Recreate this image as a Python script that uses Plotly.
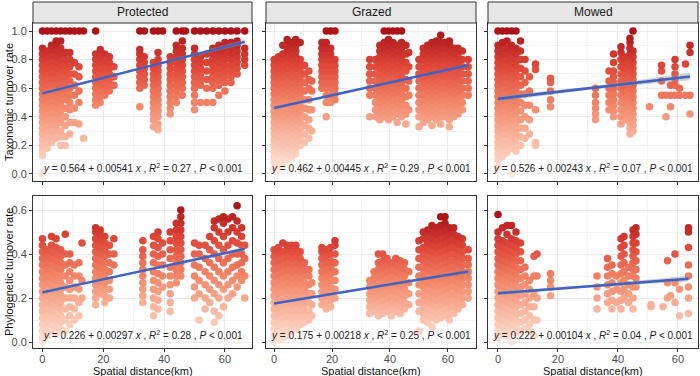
import plotly.graph_objects as go

# ---------------- data ----------------
PANELS = ["Protected", "Grazed", "Mowed"]
Y_TITLES = ["Taxonomic turnover rate", "Phylogenetic turnover rate"]
X_TITLE = "Spatial distance(km)"

# regression statistics shown in each panel (row-major: tax row, then phylo row)
INTERCEPTS = [0.564, 0.462, 0.526, 0.226, 0.175, 0.222]
SLOPES = [0.00541, 0.00445, 0.00243, 0.00297, 0.00218, 0.00104]
R2 = [0.27, 0.29, 0.07, 0.28, 0.25, 0.04]
P_TEXT = ["0.001"] * 6
# half-width of the grey confidence band at start / middle / end of the line
BAND = [(0.012, 0.006, 0.016), (0.006, 0.003, 0.006), (0.022, 0.01, 0.026),
        (0.007, 0.003, 0.01), (0.004, 0.002, 0.004), (0.009, 0.005, 0.013)]

# point columns: (spatial distance km, turnover values in hundredths)
PROTECTED_TAX = [
    (0, [0, 13, 16, 20, 24, 28, 32, 36, 40, 44, 48, 52, 56, 60, 64, 68, 72, 76, 80, 84, 88, 100]),
    (1.5, [18, 22, 26, 30, 34, 38, 42, 46, 50, 54, 58, 62, 66, 70, 74, 78, 82, 86, 100]),
    (3, [22, 27, 31, 35, 39, 43, 47, 51, 55, 59, 63, 67, 71, 75, 79, 83, 87, 90, 100]),
    (4.5, [25, 30, 34, 38, 42, 46, 50, 54, 58, 62, 66, 70, 74, 78, 82, 86, 90, 93, 100]),
    (6, [20, 26, 30, 36, 40, 44, 48, 52, 56, 60, 64, 68, 72, 76, 80, 84, 88, 93, 100]),
    (7.5, [20, 26, 34, 40, 46, 52, 56, 60, 64, 68, 72, 76, 80, 85, 100]),
    (9, [28, 36, 45, 50, 55, 60, 65, 70, 75, 80, 85, 100]),
    (10.5, [36, 46, 55, 62, 70, 78, 100]),
    (12, [35, 50, 58, 68, 75, 100]),
    (13.5, [25, 100]),
    (17.5, [48, 52, 56, 60, 64, 68, 72, 76, 80, 84, 100]),
    (19, [50, 54, 58, 62, 66, 70, 74, 78, 82, 87]),
    (20.5, [55, 59, 63, 67, 71, 75, 79, 84]),
    (22, [58, 62, 66, 70, 74, 78, 82]),
    (23.5, [62, 68, 75]),
    (32, [47, 60, 64, 68, 72, 76, 80, 84, 87, 100]),
    (33.5, [62, 66, 70, 74, 78, 82, 100]),
    (36.5, [33, 38, 42, 46, 50, 54, 58, 62, 66, 70, 74, 78, 100]),
    (38, [31, 35, 40, 44, 48, 52, 56, 60, 64, 68, 72, 76, 80, 85, 100]),
    (39.5, [100]),
    (42, [42, 46, 50, 54, 58, 62, 66, 70, 74, 78, 82]),
    (44, [50, 54, 58, 62, 66, 70, 74, 78, 82, 86, 90, 100]),
    (46, [55, 60, 64, 68, 72, 76, 80, 84, 88, 93, 100]),
    (47, [100]),
    (50, [45, 50, 55, 60, 64, 68, 72, 76, 80, 84, 88, 100]),
    (52, [50, 62, 66, 70, 74, 78, 82, 100]),
    (54, [50, 60, 66, 72, 78, 84, 100]),
    (56, [50, 60, 64, 68, 72, 76, 80, 84, 88, 100]),
    (58, [55, 62, 66, 70, 74, 78, 82, 86, 90, 100]),
    (60, [58, 64, 68, 72, 76, 80, 84, 88, 92, 100]),
    (62, [64, 68, 72, 76, 80, 84, 88, 92, 100]),
    (64, [70, 74, 78, 82, 86, 90, 93, 100]),
    (66.5, [76, 80, 84, 88, 100]),
]

GRAZED_TAX = [
    (0, [4, 8, 12, 16, 20, 24, 28, 32, 36, 40, 44, 48, 52, 56, 60, 64, 68, 72, 76, 80]),
    (1.5, [4, 6, 10, 14, 18, 22, 26, 30, 34, 38, 42, 46, 50, 54, 58, 62, 66, 70, 74, 78, 82]),
    (3, [8, 12, 16, 20, 24, 28, 32, 36, 40, 44, 48, 52, 56, 60, 64, 68, 72, 76, 80, 84, 90]),
    (4.5, [10, 14, 18, 22, 26, 30, 34, 38, 42, 46, 50, 54, 58, 62, 66, 70, 74, 78, 82, 86, 90, 94]),
    (6, [12, 16, 20, 24, 28, 32, 36, 40, 44, 48, 52, 56, 60, 64, 68, 72, 76, 80, 84, 88, 92]),
    (7.5, [14, 18, 22, 26, 30, 34, 38, 42, 46, 50, 54, 58, 62, 66, 70, 74, 78, 82, 86, 90, 94]),
    (9, [20, 24, 28, 32, 36, 40, 44, 48, 52, 56, 60, 64, 68, 72, 76, 80, 92]),
    (10.5, [22, 28, 34, 40, 46, 52, 58, 64, 70, 76]),
    (12, [25, 32, 38, 45, 52, 60, 66, 72]),
    (13, [30, 45, 58, 65]),
    (16.5, [60, 64, 68, 72, 76, 80, 84, 88, 92]),
    (18, [40, 50, 55, 60, 64, 68, 72, 76, 80, 84, 88, 92, 100]),
    (19.5, [50, 55, 60, 64, 68, 72, 76, 80, 84, 88, 100]),
    (21, [52, 56, 60, 64, 68, 72, 76, 80, 100]),
    (33, [40, 55, 60, 65, 70, 75, 80]),
    (35, [40, 45, 50, 55, 60, 65, 70, 75, 80]),
    (36.5, [38, 42, 46, 50, 54, 58, 62, 66, 70, 74, 78, 82, 86, 90]),
    (38, [40, 44, 48, 52, 56, 60, 64, 68, 72, 76, 80, 84, 88, 92, 100]),
    (39.5, [38, 42, 46, 50, 54, 58, 62, 66, 70, 74, 78, 82, 86, 90, 94, 100]),
    (41, [40, 44, 48, 52, 56, 60, 64, 68, 72, 76, 80, 84, 88, 92, 100]),
    (42.5, [36, 42, 46, 50, 54, 58, 62, 66, 70, 74, 78, 82, 86, 90, 100]),
    (44, [40, 44, 48, 52, 56, 60, 64, 68, 72, 76, 80, 84, 88, 92, 100]),
    (45.5, [35, 42, 48, 54, 60, 66, 72, 78, 84, 90]),
    (46.5, [45, 55, 65, 75, 85]),
    (50, [33, 40, 45, 50, 55, 60, 65, 70, 75, 80]),
    (51.5, [36, 40, 44, 48, 52, 56, 60, 64, 68, 72, 76, 80, 84, 88]),
    (53, [38, 42, 46, 50, 54, 58, 62, 66, 70, 74, 78, 82, 86, 90]),
    (54.5, [34, 40, 44, 48, 52, 56, 60, 64, 68, 72, 76, 80, 84, 88, 92]),
    (56, [38, 42, 46, 50, 54, 58, 62, 66, 70, 74, 78, 82, 86, 90, 93]),
    (57.5, [35, 40, 44, 48, 52, 56, 60, 64, 68, 72, 76, 80, 84, 88, 92, 97]),
    (59, [40, 44, 48, 52, 56, 60, 64, 68, 72, 76, 80, 84, 88, 92]),
    (60.5, [33, 38, 42, 46, 50, 54, 58, 62, 66, 70, 74, 78, 82, 86, 90, 93]),
    (62, [40, 44, 48, 52, 56, 60, 64, 68, 72, 76, 80, 84, 88]),
    (63.5, [42, 46, 50, 54, 58, 62, 66, 70, 74, 78, 82, 86, 88]),
    (65, [45, 50, 55, 60, 65, 70, 75, 80, 86]),
    (67, [55, 60, 65, 70, 75, 80]),
]

MOWED_TAX = [
    (0, [5, 10, 14, 18, 22, 26, 30, 34, 38, 42, 46, 50, 54, 58, 62, 66, 70, 74, 78, 82, 86, 90, 100]),
    (1.5, [12, 16, 20, 24, 28, 32, 36, 40, 44, 48, 52, 56, 60, 64, 68, 72, 76, 80, 84, 88, 92, 100]),
    (3, [15, 20, 24, 28, 32, 36, 40, 44, 48, 52, 56, 60, 64, 68, 72, 76, 80, 84, 88, 93, 100]),
    (4.5, [0, 18, 22, 26, 30, 34, 38, 42, 46, 50, 54, 58, 62, 66, 70, 74, 78, 82, 86, 90, 100]),
    (6, [16, 20, 24, 28, 32, 36, 40, 44, 48, 52, 56, 60, 64, 68, 72, 76, 80, 84, 88, 100]),
    (7.5, [20, 26, 32, 38, 44, 50, 56, 62, 68, 74, 80, 86, 93]),
    (9, [25, 32, 40, 48, 56, 64, 72, 80]),
    (10.5, [28, 38, 48, 58, 68]),
    (12.5, [20, 22, 45, 73, 77]),
    (17.5, [47, 52, 58, 64, 67]),
    (32.5, [38, 42, 46, 50, 55, 60]),
    (37, [45, 50, 55, 60, 65, 72]),
    (38.5, [40, 44, 48, 52, 56, 60, 64, 68, 72, 78, 84]),
    (41, [35, 40, 45, 50, 55, 60, 65, 70, 75, 80, 85, 89]),
    (42, [38, 42, 46, 50, 54, 58, 62, 66, 70, 74, 78, 82]),
    (44, [28, 32, 36, 40, 44, 48, 52, 56, 60, 64, 68, 72, 76, 80, 84, 88, 92, 95]),
    (45, [30, 34, 38, 42, 46, 50, 54, 58, 62, 66, 70, 74, 78, 82, 86, 100]),
    (50.5, [47]),
    (54.5, [55, 65, 72, 76]),
    (56, [40, 55]),
    (57.5, [47, 55, 62]),
    (59, [55, 62, 66, 70, 75, 80]),
    (60.5, [55, 60]),
    (62.5, [55, 77]),
    (64, [42, 55, 85, 90]),
]

PROTECTED_PHY = [
    (0, [0, 2, 5, 8, 11, 14, 17, 20, 23, 26, 29, 32, 35, 38, 41, 44, 47]),
    (1.5, [3, 6, 9, 12, 15, 18, 21, 24, 27, 30, 33, 36, 39, 42]),
    (3, [5, 8, 11, 14, 17, 20, 23, 26, 29, 32, 35, 38, 41, 44, 48]),
    (4.5, [4, 7, 10, 13, 16, 19, 22, 25, 28, 31, 34, 37, 40, 43, 47]),
    (6, [6, 9, 12, 15, 18, 21, 24, 27, 30, 33, 36, 39, 42]),
    (7.5, [5, 10, 15, 20, 25, 30, 35, 40, 49]),
    (9, [8, 12, 16, 20, 24, 28, 32, 36, 40]),
    (10.5, [10, 15, 20, 25, 30, 35]),
    (12, [12, 18, 24, 30, 36]),
    (13, [20, 28, 45]),
    (17.5, [17, 20, 23, 26, 29, 32, 35, 38, 41, 44, 47, 50, 52]),
    (19, [22, 25, 28, 31, 34, 37, 40, 43, 46, 49, 51]),
    (20.5, [18, 21, 24, 27, 30, 33, 36, 39, 42, 45, 48]),
    (22, [20, 24, 28, 32, 36, 40, 44]),
    (23.5, [35, 40, 47]),
    (33, [18, 21, 24, 27, 30, 33, 36, 39, 42, 46]),
    (36.5, [12, 16, 20, 24, 28, 32, 36, 40, 44, 48]),
    (38, [15, 19, 23, 27, 31, 35, 39, 43, 47, 50]),
    (39.5, [25, 30, 35, 40, 45]),
    (42, [14, 18, 22, 26, 30, 34, 38, 42, 46, 50]),
    (44, [27, 30, 33, 36, 39, 42, 45, 48, 51, 54]),
    (45.5, [30, 33, 36, 39, 42, 45, 48, 51, 54, 57, 60]),
    (50, [20, 25, 30, 35, 40, 45]),
    (51.5, [10, 22, 28, 34, 40, 44]),
    (53.5, [15, 20, 26, 32, 38, 44]),
    (55, [18, 24, 30, 36, 42, 48]),
    (56.5, [9, 14, 22, 28, 34, 40, 46, 52, 55]),
    (58, [12, 20, 26, 32, 38, 44, 50, 56]),
    (59.5, [16, 24, 30, 36, 42, 48, 54, 57]),
    (61, [20, 26, 32, 38, 44, 50, 56]),
    (62.5, [22, 28, 34, 40, 46, 52, 57]),
    (64, [25, 30, 35, 40, 45, 50, 55, 62]),
    (65.5, [28, 32, 36, 40, 44, 48, 52]),
    (66.5, [20, 30, 38, 44]),
]

GRAZED_PHY = [
    (0, [0, 3, 6, 9, 12, 15, 18, 21, 24, 27, 30, 33, 36, 39, 42]),
    (1.5, [1, 4, 7, 10, 13, 16, 19, 22, 25, 28, 31, 34, 37, 40, 43]),
    (3, [2, 5, 8, 11, 14, 17, 20, 23, 26, 29, 32, 35, 38, 41, 45]),
    (4.5, [3, 6, 9, 12, 15, 18, 21, 24, 27, 30, 33, 36, 39, 42, 44]),
    (6, [5, 8, 11, 14, 17, 20, 23, 26, 29, 32, 35, 38, 41, 44]),
    (7.5, [6, 9, 12, 15, 18, 21, 24, 27, 30, 33, 36, 39, 42, 44]),
    (9, [8, 11, 14, 17, 20, 23, 26, 29, 32, 35, 38, 41]),
    (10.5, [9, 12, 15, 18, 21, 24, 27, 30, 33, 36]),
    (12, [10, 14, 18, 22, 26, 30, 33]),
    (13, [12, 17, 22, 27]),
    (16.5, [17, 20, 23, 26, 29, 32, 35, 38, 41, 43]),
    (18, [15, 18, 21, 24, 27, 30, 33, 36, 39, 42]),
    (19.5, [16, 19, 22, 25, 28, 31, 34, 37, 40, 43]),
    (21, [20, 24, 28, 32, 36, 40, 44, 46]),
    (33, [13, 16, 19, 22, 25, 28]),
    (34.5, [14, 17, 20, 23, 26, 29, 32]),
    (36, [12, 15, 18, 21, 24, 27, 30, 33, 36, 40]),
    (37.5, [13, 16, 19, 22, 25, 28, 31, 34, 37, 40]),
    (39, [14, 17, 20, 23, 26, 29, 32, 35, 38]),
    (40.5, [12, 15, 18, 21, 24, 27, 30, 33, 36]),
    (42, [14, 17, 20, 23, 26, 29, 32, 35, 38]),
    (43.5, [13, 16, 19, 22, 25, 28, 31, 34, 37]),
    (45, [15, 18, 21, 24, 27, 30, 33, 36]),
    (46.5, [17, 22, 27, 32]),
    (50, [5, 14, 18, 22, 26, 30, 34, 38, 42, 46]),
    (51.5, [10, 13, 16, 19, 22, 25, 28, 31, 34, 37, 40, 43, 47, 50]),
    (53, [9, 12, 15, 18, 21, 24, 27, 30, 33, 36, 39, 42, 45, 48, 51]),
    (54.5, [7, 11, 14, 17, 20, 23, 26, 29, 32, 35, 38, 41, 44, 47, 50, 53]),
    (56, [10, 13, 16, 19, 22, 25, 28, 31, 34, 37, 40, 43, 46, 49, 52]),
    (57.5, [11, 14, 17, 20, 23, 26, 29, 32, 35, 38, 41, 44, 47, 50, 53, 57]),
    (59, [12, 15, 18, 21, 24, 27, 30, 33, 36, 39, 42, 45, 48, 51, 54, 57]),
    (60.5, [10, 13, 16, 19, 22, 25, 28, 31, 34, 37, 40, 43, 46, 49, 52]),
    (62, [13, 16, 19, 22, 25, 28, 31, 34, 37, 40, 43, 46, 49, 52]),
    (63.5, [15, 18, 21, 24, 27, 30, 33, 36, 39, 42, 45, 48]),
    (65, [17, 20, 23, 26, 29, 32, 35, 38, 41, 44, 47]),
    (67, [20, 23, 26, 29, 32, 35, 38, 42]),
]

MOWED_PHY = [
    (0, [2, 5, 8, 11, 14, 17, 20, 23, 26, 29, 32, 35, 38, 41, 44, 47, 50, 58]),
    (1.5, [4, 7, 10, 13, 16, 19, 22, 25, 28, 31, 34, 37, 40, 43, 46, 52]),
    (3, [3, 6, 9, 12, 15, 18, 21, 24, 27, 30, 33, 36, 39, 42, 45, 49, 53]),
    (4.5, [0, 5, 8, 11, 14, 17, 20, 23, 26, 29, 32, 35, 38, 41, 44, 47, 53]),
    (6, [4, 7, 10, 13, 16, 19, 22, 25, 28, 31, 34, 37, 40, 43, 46, 50]),
    (7.5, [5, 9, 13, 17, 21, 25, 29, 33, 37, 41, 45]),
    (9, [6, 10, 14, 18, 22, 26, 30, 34]),
    (10.5, [5, 8, 12, 16, 20, 24, 28]),
    (12, [3, 10, 16, 22, 30, 39]),
    (13, [10, 20, 30, 40]),
    (17.5, [21, 25, 28, 31]),
    (33, [15, 20, 25, 30]),
    (36.5, [18, 22, 26, 30, 34, 38]),
    (38, [15, 19, 23, 27, 31, 35]),
    (39.5, [18, 24, 30]),
    (41, [15, 19, 23, 27, 31, 35, 39, 43, 47]),
    (42, [20, 24, 28, 32, 36, 40, 44, 48]),
    (43.5, [18, 22, 26, 30, 34]),
    (45, [15, 20, 25, 30, 33, 36, 39, 42, 45, 48, 51]),
    (46, [25, 29, 33, 37, 41, 45, 49, 52]),
    (51, [16, 17]),
    (55, [16]),
    (56.5, [20, 27, 37]),
    (57.5, [21]),
    (59, [18, 27, 40]),
    (60.5, [12, 24]),
    (63.5, [13, 20, 25, 30, 35, 43, 50, 52]),
]

ALL_PANELS = [PROTECTED_TAX, GRAZED_TAX, MOWED_TAX, PROTECTED_PHY, GRAZED_PHY, MOWED_PHY]
X_TICKS = [0, 20, 40, 60]
Y_TICKS = [[0, 0.2, 0.4, 0.6, 0.8, 1.0], [0, 0.2, 0.4, 0.6]]

# ---------------- layout geometry ----------------
W, H = 700, 376
X_DOM_PX = [(33, 252), (266, 476), (488, 698)]
Y_DOM_PX = [(23, 181), (196, 348)]
X_RANGES = [(-3.1, 68.9), (-2.8, 69.7), (-3.33, 66.67)]
Y_RANGES = [(-0.049, 1.056), (-0.027, 0.664)]

COLORSCALE = [[0.0, "#fde4d8"], [0.25, "#f9b7a0"], [0.5, "#f28466"],
              [0.75, "#e0483a"], [1.0, "#ab1419"]]
FONT = "Liberation Sans, Arial, Helvetica, sans-serif"

fig = go.Figure()
layout = dict(width=W, height=H, margin=dict(l=0, r=0, t=0, b=0), autosize=False,
              paper_bgcolor="white", plot_bgcolor="white", showlegend=False,
              font=dict(family=FONT, size=11, color="#222"))
shapes, annotations = [], []

for i, cols in enumerate(ALL_PANELS):
    row, col = divmod(i, 3)
    n = "" if i == 0 else str(i + 1)
    pts = sorted(((x, v / 100) for x, vals in cols for v in vals), key=lambda p: p[1])
    xs = [p[0] for p in pts]
    ys = [p[1] for p in pts]
    fig.add_trace(go.Scatter(
        x=xs, y=ys, mode="markers", xaxis="x" + n, yaxis="y" + n, hoverinfo="skip",
        marker=dict(size=7.5, color=ys, colorscale=COLORSCALE, cmin=min(ys), cmax=max(ys),
                    line=dict(width=0), opacity=1)))
    # regression line with confidence band
    x0, x1 = min(xs), max(xs)
    xm = (x0 + x1) / 2
    a, b = INTERCEPTS[i], SLOPES[i]
    fit = [a + b * x for x in (x0, xm, x1)]
    bw = BAND[i]
    fig.add_trace(go.Scatter(
        x=[x0, xm, x1, x1, xm, x0],
        y=[fit[0] + bw[0], fit[1] + bw[1], fit[2] + bw[2], fit[2] - bw[2], fit[1] - bw[1], fit[0] - bw[0]],
        mode="lines", fill="toself", fillcolor="rgba(150,150,150,0.45)",
        line=dict(width=0), xaxis="x" + n, yaxis="y" + n, hoverinfo="skip"))
    fig.add_trace(go.Scatter(
        x=[x0, x1], y=[fit[0], fit[2]], mode="lines", line=dict(color="#3F62C4", width=2.5),
        xaxis="x" + n, yaxis="y" + n, hoverinfo="skip"))

    xd = X_DOM_PX[col]
    yd = Y_DOM_PX[row]
    layout["xaxis" + n] = dict(
        domain=[xd[0] / W, xd[1] / W], range=list(X_RANGES[col]), anchor="y" + n,
        tickvals=X_TICKS, showticklabels=(row == 1), ticks="outside", ticklen=3,
        ticklabelstandoff=-2,
        tickcolor="#333", tickfont=dict(size=11, color="#4d4d4d"),
        showgrid=True, gridcolor="#ebebeb", gridwidth=1, zeroline=False,
        showline=True, linecolor="#333", linewidth=1, mirror=True,
        minor=dict(tickvals=[10, 30, 50], showgrid=True, gridcolor="#f4f4f4", gridwidth=0.6))
    yminor = [0.1, 0.3, 0.5, 0.7, 0.9] if row == 0 else [0.1, 0.3, 0.5]
    layout["yaxis" + n] = dict(
        domain=[1 - yd[1] / H, 1 - yd[0] / H], range=list(Y_RANGES[row]), anchor="x" + n,
        tickvals=Y_TICKS[row], tickformat=".1f", showticklabels=(col == 0),
        ticks="outside", ticklen=3, tickcolor="#333", tickfont=dict(size=11, color="#4d4d4d"),
        showgrid=True, gridcolor="#ebebeb", gridwidth=1, zeroline=False,
        showline=True, linecolor="#333", linewidth=1, mirror=True,
        minor=dict(tickvals=yminor, showgrid=True, gridcolor="#f4f4f4", gridwidth=0.6))

    eq = ("<i>y</i> = {:.3f} + {} <i>x</i> , <i>R</i><sup>2</sup> = {:.2f} , <i>P</i> &lt; {}"
          .format(a, str(b), R2[i], P_TEXT[i]))
    annotations.append(dict(
        text=eq, xref="x" + n + " domain", yref="y" + n, x=0.5, y=0.04 if row == 0 else 0.031,
        xanchor="center", yanchor="middle", showarrow=False,
        font=dict(size=10, color="#222", family=FONT)))

# facet strips on the top row
for col, name in enumerate(PANELS):
    xd = X_DOM_PX[col]
    shapes.append(dict(type="rect", xref="paper", yref="paper",
                       x0=xd[0] / W, x1=xd[1] / W, y0=1 - 23 / H, y1=1 - 2 / H,
                       fillcolor="#e6e6e6", line=dict(color="#333", width=1), layer="above"))
    annotations.append(dict(text=name, xref="paper", yref="paper",
                            x=(xd[0] + xd[1]) / 2 / W, y=1 - 12.5 / H,
                            xanchor="center", yanchor="middle", showarrow=False,
                            font=dict(size=12, color="#1a1a1a", family=FONT)))
    annotations.append(dict(text=X_TITLE, xref="paper", yref="paper",
                            x=(xd[0] + xd[1]) / 2 / W, y=1 - 370.5 / H,
                            xanchor="center", yanchor="middle", showarrow=False,
                            font=dict(size=11, color="#111", family=FONT)))

for row, title in enumerate(Y_TITLES):
    yd = Y_DOM_PX[row]
    annotations.append(dict(text=title, xref="paper", yref="paper",
                            x=9 / W, y=1 - (yd[0] + yd[1]) / 2 / H, textangle=-90,
                            xanchor="center", yanchor="middle", showarrow=False,
                            font=dict(size=11, color="#111", family=FONT)))

layout["shapes"] = shapes
layout["annotations"] = annotations
fig.update_layout(**layout)
fig.write_html("out.html", config={"displayModeBar": False},
               post_script="document.body.style.margin='0';document.body.style.overflow='hidden';")
